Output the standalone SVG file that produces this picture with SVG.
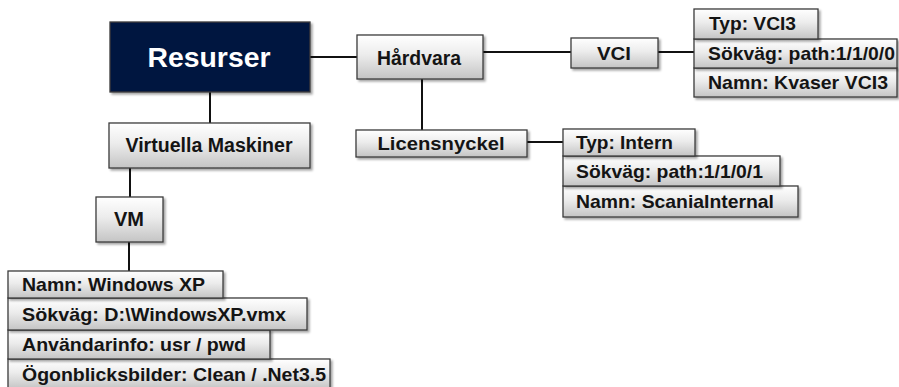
<svg xmlns="http://www.w3.org/2000/svg" width="899" height="387" viewBox="0 0 899 387">
  <defs>
    <linearGradient id="boxFill" x1="0" y1="0" x2="0" y2="1">
      <stop offset="0" stop-color="#ffffff"/>
      <stop offset="0.45" stop-color="#ececec"/>
      <stop offset="1" stop-color="#c4c4c4"/>
    </linearGradient>
    <filter id="shadow" x="-10%" y="-20%" width="125%" height="150%">
      <feDropShadow dx="2" dy="2" stdDeviation="1.2" flood-color="#000" flood-opacity="0.35"/>
    </filter>
    <style>
      .box { fill: url(#boxFill); stroke: #3c3c3c; stroke-width: 1.3; filter: url(#shadow); }
      .root { fill: #061441; stroke: #3c3c3c; stroke-width: 1.3; filter: url(#shadow); }
      .lbl { font-family: "Liberation Sans", Arial, sans-serif; font-weight: bold; font-size: 18.5px; fill: #141414; }
      .mid { text-anchor: middle; }
      .big { font-size: 28px; fill: #ffffff; }
      .head { font-size: 19.5px; }
      .conn line { stroke: #111; stroke-width: 2; }
    </style>
  </defs>
  <rect width="899" height="387" fill="#ffffff"/>

  <!-- connectors -->
  <g id="connectors" class="conn">
    <line x1="310" y1="57" x2="357" y2="57"/>
    <line x1="210" y1="92" x2="210" y2="123"/>
    <line x1="483" y1="52" x2="571" y2="52"/>
    <line x1="422" y1="79" x2="422" y2="130"/>
    <line x1="658" y1="52" x2="694" y2="52"/>
    <line x1="527" y1="142" x2="563" y2="142"/>
    <line x1="130" y1="168" x2="130" y2="197"/>
    <line x1="129" y1="242" x2="129" y2="271"/>
  </g>

  <g id="resurser">
    <rect class="root" x="110" y="22" width="200" height="70"/>
    <text class="lbl big mid" x="209" y="67" textLength="123" lengthAdjust="spacingAndGlyphs">Resurser</text>
  </g>

  <g id="hardvara">
    <rect class="box" x="357" y="35" width="126" height="44"/>
    <text class="lbl head mid" x="419" y="65" textLength="84" lengthAdjust="spacingAndGlyphs">Hårdvara</text>
  </g>

  <g id="vci">
    <rect class="box" x="571" y="38" width="87" height="30"/>
    <text class="lbl mid" x="614" y="60" textLength="34" lengthAdjust="spacingAndGlyphs">VCI</text>
  </g>

  <g id="vci-props">
    <rect class="box" x="694" y="68" width="203" height="29"/>
    <rect class="box" x="694" y="39" width="203" height="29"/>
    <rect class="box" x="694" y="9" width="124" height="30"/>
    <text class="lbl" x="709" y="30" textLength="87" lengthAdjust="spacingAndGlyphs">Typ: VCI3</text>
    <text class="lbl" x="708" y="60" textLength="187" lengthAdjust="spacingAndGlyphs">Sökväg: path:1/1/0/0</text>
    <text class="lbl" x="708" y="89" textLength="180" lengthAdjust="spacingAndGlyphs">Namn: Kvaser VCI3</text>
  </g>

  <g id="licensnyckel">
    <rect class="box" x="356" y="130" width="171" height="27"/>
    <text class="lbl mid" x="441" y="150" textLength="127" lengthAdjust="spacingAndGlyphs">Licensnyckel</text>
  </g>

  <g id="licens-props">
    <rect class="box" x="563" y="186" width="235" height="31"/>
    <rect class="box" x="563" y="156" width="217" height="30"/>
    <rect class="box" x="563" y="129" width="132" height="27"/>
    <text class="lbl" x="576" y="149" textLength="97" lengthAdjust="spacingAndGlyphs">Typ: Intern</text>
    <text class="lbl" x="576" y="178" textLength="187" lengthAdjust="spacingAndGlyphs">Sökväg: path:1/1/0/1</text>
    <text class="lbl" x="576" y="208" textLength="198" lengthAdjust="spacingAndGlyphs">Namn: ScaniaInternal</text>
  </g>

  <g id="virtuella-maskiner">
    <rect class="box" x="109" y="123" width="201" height="45"/>
    <text class="lbl head mid" x="209" y="152" textLength="167" lengthAdjust="spacingAndGlyphs">Virtuella Maskiner</text>
  </g>

  <g id="vm">
    <rect class="box" x="96" y="197" width="67" height="45"/>
    <text class="lbl head mid" x="129" y="226" textLength="30" lengthAdjust="spacingAndGlyphs">VM</text>
  </g>

  <g id="vm-props">
    <rect class="box" x="8" y="359" width="322" height="30"/>
    <rect class="box" x="8" y="330" width="262" height="29"/>
    <rect class="box" x="8" y="298" width="299" height="32"/>
    <rect class="box" x="8" y="271" width="215" height="27"/>
    <text class="lbl" x="22" y="291" textLength="183" lengthAdjust="spacingAndGlyphs">Namn: Windows XP</text>
    <text class="lbl" x="22" y="321" textLength="264" lengthAdjust="spacingAndGlyphs">Sökväg: D:\WindowsXP.vmx</text>
    <text class="lbl" x="22" y="351" textLength="224" lengthAdjust="spacingAndGlyphs">Användarinfo: usr / pwd</text>
    <text class="lbl" x="22" y="381" textLength="304" lengthAdjust="spacingAndGlyphs">Ögonblicksbilder: Clean / .Net3.5</text>
  </g>
</svg>
